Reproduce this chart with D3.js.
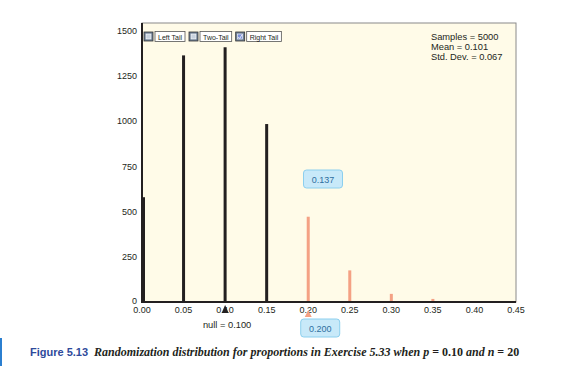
<!DOCTYPE html>
<html>
<head>
<meta charset="utf-8">
<script src="https://cdn.jsdelivr.net/npm/d3@7"></script>
<style>
  body { margin: 0; background: #fff; }
  svg { display: block; font-family: "Liberation Sans", Arial, sans-serif; }
</style>
</head>
<body>
<svg id="chart" width="561" height="377"></svg>
<script>
// Randomization distribution data
const proportions = [0.00, 0.05, 0.10, 0.15, 0.20, 0.25, 0.30, 0.35, 0.40, 0.45];
const counts = [580, 1365, 1410, 985, 472, 175, 45, 17, 4, 1];
const yTicks = [0, 250, 500, 750, 1000, 1250, 1500];
const xTicks = [0.00, 0.05, 0.10, 0.15, 0.20, 0.25, 0.30, 0.35, 0.40, 0.45];
const statLines = ["Samples = 5000", "Mean = 0.101", "Std. Dev. = 0.067"];
const tailButtons = [
  {label: "Left Tail", checked: false},
  {label: "Two-Tail", checked: false},
  {label: "Right Tail", checked: true}
];
const nullValue = 0.10;
const cutoff = 0.20;
const tailProportion = "0.137";

const svg = d3.select("#chart");

const plot = {left: 142, right: 516, top: 23, bottom: 302};

const x = d3.scaleLinear().domain([0, 0.45]).range([plot.left, plot.right]);
const y = d3.scaleLinear().domain([0, 1500]).range([plot.bottom, 31]);

// plot background + frame
svg.append("rect")
    .attr("x", plot.left).attr("y", plot.top)
    .attr("width", plot.right - plot.left).attr("height", plot.bottom - plot.top)
    .attr("fill", "#fffbe8")
    .attr("stroke", "#8a8a8a")
    .attr("stroke-width", 1);

// bars
const data = proportions.map((p, i) => ({p, n: counts[i]}));
svg.selectAll(".bar")
    .data(data)
  .join("rect")
    .attr("class", "bar")
    .attr("x", d => x(d.p) - (d.p === 0 ? 0 : 1.5))
    .attr("width", 3)
    .attr("y", d => y(d.n))
    .attr("height", d => plot.bottom - y(d.n))
    .attr("fill", d => d.p >= cutoff - 1e-9 ? "#f4a184" : "#231f20");

// axes lines
svg.append("line")
    .attr("x1", plot.left).attr("x2", plot.left)
    .attr("y1", plot.top).attr("y2", plot.bottom + 1)
    .attr("stroke", "#231f20").attr("stroke-width", 2);
svg.append("line")
    .attr("x1", plot.left).attr("x2", plot.right)
    .attr("y1", plot.bottom).attr("y2", plot.bottom)
    .attr("stroke", "#231f20").attr("stroke-width", 2);

// y axis labels
svg.selectAll(".ylab")
    .data(yTicks)
  .join("text")
    .attr("class", "ylab")
    .attr("x", 137)
    .attr("y", d => y(d) + (d === 0 ? 2 : 3))
    .attr("text-anchor", "end")
    .attr("font-size", 9)
    .attr("fill", "#231f20")
    .text(d => d);

// x axis labels
svg.selectAll(".xlab")
    .data(xTicks)
  .join("text")
    .attr("class", "xlab")
    .attr("x", d => x(d))
    .attr("y", 313)
    .attr("text-anchor", "middle")
    .attr("font-size", 9)
    .attr("fill", "#231f20")
    .text(d => d3.format(".2f")(d));

// tail buttons
let bx = 144;
tailButtons.forEach(b => {
  const g = svg.append("g");
  g.append("rect")
      .attr("x", bx).attr("y", 32).attr("width", 9).attr("height", 9)
      .attr("fill", "#6d7f95").attr("stroke", "#333").attr("stroke-width", 0.8);
  g.append("rect")
      .attr("x", bx + 2).attr("y", 34).attr("width", 5).attr("height", 5)
      .attr("fill", b.checked ? "#7b8fd8" : "#c9d3df").attr("stroke", "#fff").attr("stroke-width", 0.6);
  if (b.checked) {
    g.append("path")
        .attr("d", `M${bx + 2.5},${37} L${bx + 4},${38.5} L${bx + 6.5},${34.5}`)
        .attr("fill", "none").attr("stroke", "#fff").attr("stroke-width", 0.8);
  }
  const t = g.append("text")
      .attr("x", bx + 14).attr("y", 39.5)
      .attr("font-size", 7)
      .attr("fill", "#231f20")
      .text(b.label);
  const w = t.node().getComputedTextLength() + 6;
  g.insert("rect", "text")
      .attr("x", bx + 11).attr("y", 31.5).attr("width", w).attr("height", 10)
      .attr("fill", "#fff").attr("stroke", "#555").attr("stroke-width", 0.8);
  bx += 11 + w + 4;
});

// summary statistics
svg.selectAll(".stat")
    .data(statLines)
  .join("text")
    .attr("class", "stat")
    .attr("x", 431)
    .attr("y", (d, i) => 40 + i * 10)
    .attr("font-size", 9.3)
    .attr("fill", "#231f20")
    .text(d => d);

// rounded value box helper
function valueBox(cx, cy, label) {
  const g = svg.append("g");
  g.append("text")
      .attr("x", cx).attr("y", cy + 3.5)
      .attr("text-anchor", "middle")
      .attr("font-size", 9)
      .attr("fill", "#2f6f9f")
      .text(label);
  g.insert("rect", "text")
      .attr("x", cx - 19.5).attr("y", cy - 9)
      .attr("width", 39).attr("height", 18)
      .attr("rx", 3)
      .attr("fill", "#c8e9f9")
      .attr("stroke", "#8ccfee")
      .attr("stroke-width", 1);
}

valueBox(323, 179, tailProportion);

// cutoff marker + box
const cx0 = x(cutoff);
svg.append("path")
    .attr("d", `M${cx0 - 3.5},317 L${cx0 + 3.5},317 L${cx0},310 Z`)
    .attr("fill", "#f4a184");
valueBox(cx0 + 12, 328, d3.format(".3f")(cutoff));

// null marker
const nx = x(nullValue);
svg.append("path")
    .attr("d", `M${nx - 3.5},313 L${nx + 3.5},313 L${nx},305 Z`)
    .attr("fill", "#231f20");
svg.append("text")
    .attr("x", nx + 2)
    .attr("y", 328)
    .attr("text-anchor", "middle")
    .attr("font-size", 9.3)
    .attr("fill", "#231f20")
    .text("null = " + d3.format(".3f")(nullValue));

// caption
svg.append("rect")
    .attr("x", 0).attr("y", 338).attr("width", 2).attr("height", 28)
    .attr("fill", "#2b7fd0");
const serif = "'Liberation Serif', 'Times New Roman', serif";
const cap = svg.append("text")
    .attr("x", 30)
    .attr("y", 356)
    .attr("font-size", 12)
    .attr("font-weight", "bold")
    .attr("fill", "#231f20");
cap.append("tspan")
    .attr("font-family", "'Liberation Sans', Arial, sans-serif")
    .attr("font-size", 11)
    .attr("fill", "#2e4a9b")
    .text("Figure 5.13");
cap.append("tspan")
    .attr("dx", 6)
    .attr("font-family", serif)
    .attr("font-style", "italic")
    .text("Randomization distribution for proportions in Exercise 5.33 when p");
cap.append("tspan")
    .attr("font-family", serif)
    .text(" = 0.10 ");
cap.append("tspan")
    .attr("font-family", serif)
    .attr("font-style", "italic")
    .text("and n");
cap.append("tspan")
    .attr("font-family", serif)
    .text(" = 20");
</script>
</body>
</html>
